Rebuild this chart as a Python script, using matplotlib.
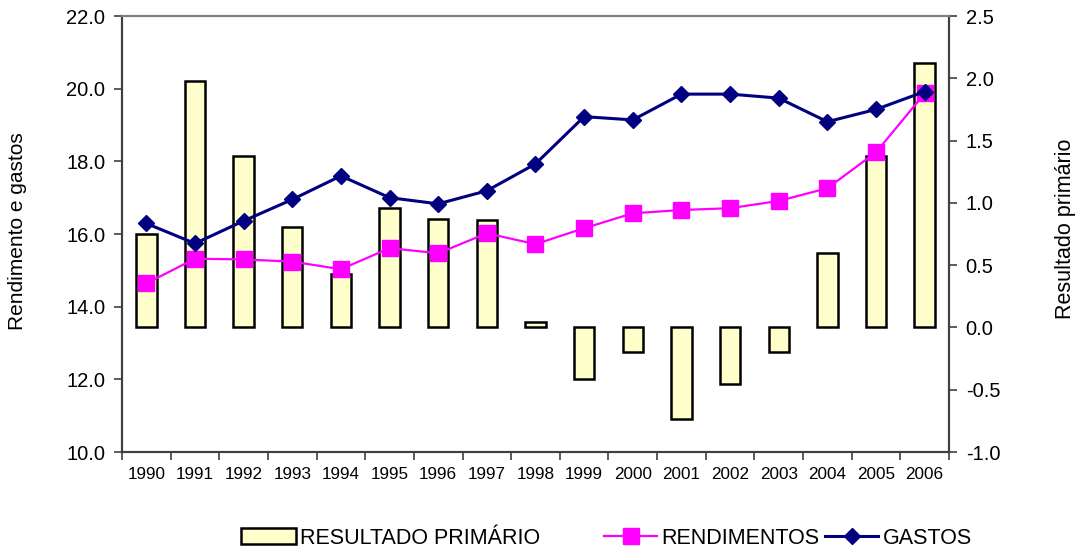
import matplotlib
matplotlib.use("Agg")
import matplotlib.pyplot as plt
import numpy as np

plt.rcParams['font.family'] = ['Liberation Sans', 'DejaVu Sans']

years = [str(y) for y in range(1990, 2007)]
resultado = [0.75, 1.98, 1.38, 0.81, 0.43, 0.96, 0.87, 0.86, 0.04, -0.41, -0.20,
             -0.735, -0.455, -0.20, 0.595, 1.38, 2.125]
rendimentos = [14.64, 15.32, 15.30, 15.24, 15.03, 15.61, 15.47, 16.02, 15.72, 16.16,
               16.57, 16.66, 16.71, 16.91, 17.26, 18.25, 19.87]
gastos = [16.29, 15.74, 16.36, 16.95, 17.60, 17.00, 16.83, 17.19, 17.93, 19.23,
          19.14, 19.85, 19.85, 19.74, 19.09, 19.43, 19.92]

left_ticks = [10.0, 12.0, 14.0, 16.0, 18.0, 20.0, 22.0]
right_ticks = [-1.0, -0.5, 0.0, 0.5, 1.0, 1.5, 2.0, 2.5]

fig = plt.figure(figsize=(10.76, 5.52), dpi=100)
ax = fig.add_axes([122/1076, 1-452/552, (949-122)/1076, (452-16)/552])
ax2 = ax.twinx()
x = np.arange(len(years))

bars = ax.bar(x, resultado, width=0.42, color='#FFFFCC', edgecolor='black',
              linewidth=1.8, label='RESULTADO PRIMÁRIO')
ax.set_ylim(-1.0, 2.5)
ax.set_xlim(-0.5, len(years) - 0.5)

l1, = ax2.plot(x, rendimentos, color='#FF00FF', linewidth=1.6, marker='s',
               markersize=12, label='RENDIMENTOS')
l2, = ax2.plot(x, gastos, color='#000080', linewidth=2.2, marker='D',
               markersize=7.8, label='GASTOS')
ax2.set_ylim(10.0, 22.0)

# right axis: resultado primario (bars)
ax.yaxis.tick_right()
ax.set_yticks(right_ticks)
ax.set_yticklabels([f"{v:.1f}" for v in right_ticks], fontsize=14.5)

# left axis: rendimentos e gastos (lines)
ax2.yaxis.tick_left()
ax2.set_yticks(left_ticks)
ax2.set_yticklabels([f"{v:.1f}" for v in left_ticks], fontsize=14.5)

fig.text(18/1076, 1-231/552, 'Rendimento e gastos', rotation=90,
         ha='center', va='center', fontsize=15)
fig.text(1065/1076, 1-229/552, 'Resultado primário', rotation=90,
         ha='center', va='center', fontsize=15.5)

# x ticks at category boundaries, labels at centers
ax.set_xticks(np.arange(-0.5, len(years), 1.0))
ax.set_xticklabels([])
ax.set_xticks(x, minor=True)
ax.set_xticklabels(years, minor=True, fontsize=12.3)
ax.tick_params(axis='x', which='minor', length=0, pad=11)
ax.tick_params(axis='x', which='major', length=6, width=1.2, color='#404040', direction='out')
ax.tick_params(axis='y', length=6, width=1.2, color='#404040', direction='out', pad=6)
ax2.tick_params(axis='y', length=6, width=1.2, color='#404040', direction='out', pad=6)

for a in (ax, ax2):
    a.spines['top'].set_color('#808080')
    a.spines['top'].set_linewidth(1.5)
    for s in ('left', 'right', 'bottom'):
        a.spines[s].set_color('#404040')
        a.spines[s].set_linewidth(1.5)

leg_y = 1 - 538/552
leg1 = fig.legend([bars], ['RESULTADO PRIMÁRIO'], loc='center left',
                  bbox_to_anchor=(241/1076, leg_y), frameon=False, fontsize=15.5,
                  handlelength=2.55, handletextpad=0.2, borderpad=0, borderaxespad=0)
leg2 = fig.legend([l1, l2], ['RENDIMENTOS', 'GASTOS'], loc='center left',
                  bbox_to_anchor=(604/1076, leg_y), ncol=2, frameon=False, fontsize=15.5,
                  handlelength=2.47, handletextpad=0.2, columnspacing=0.25,
                  borderpad=0, borderaxespad=0)

fig.savefig('out.png', dpi=100)
